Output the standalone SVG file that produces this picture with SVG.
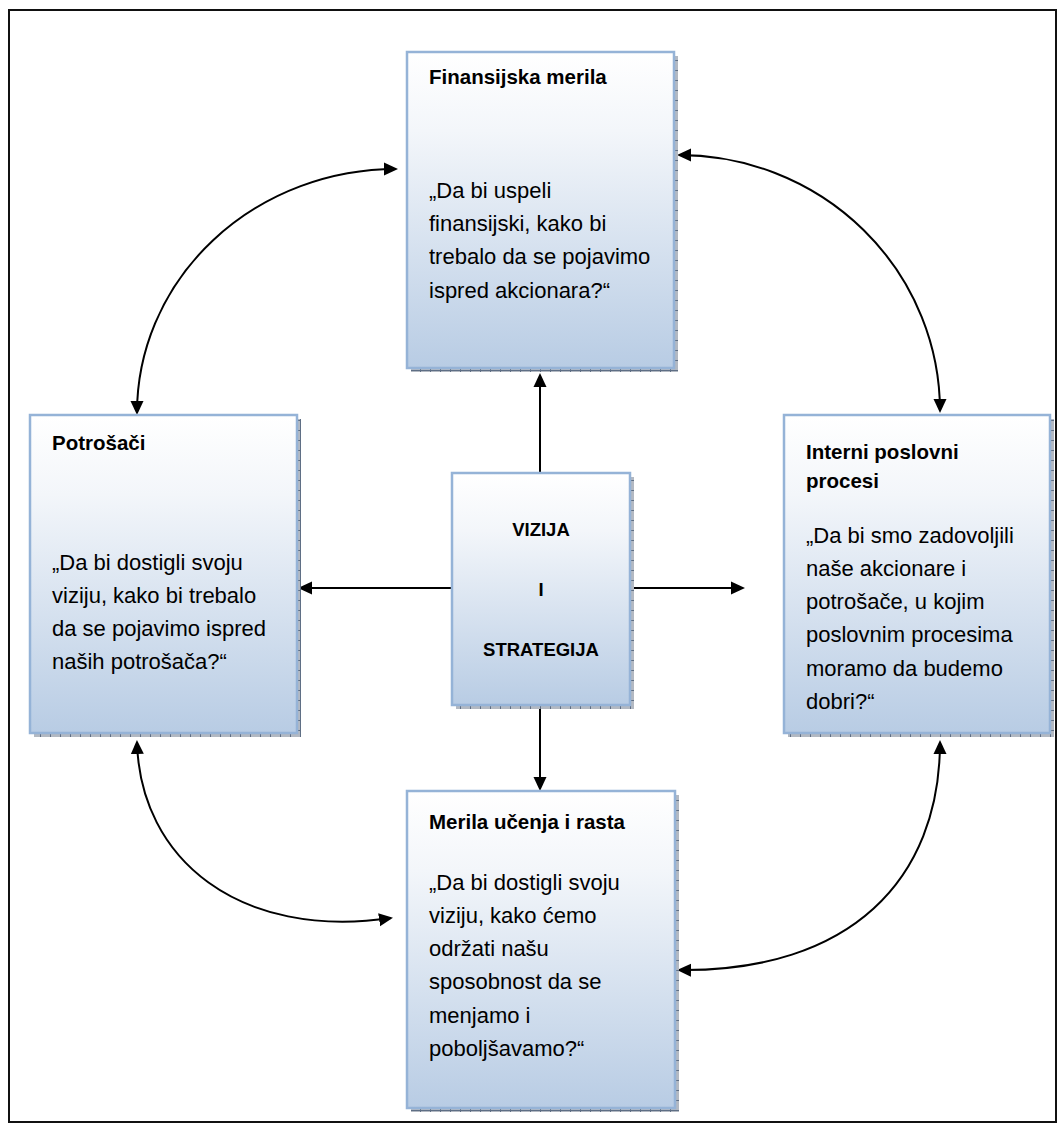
<svg xmlns="http://www.w3.org/2000/svg" width="1064" height="1131" viewBox="0 0 1064 1131">
  <style>
    .box { fill: url(#boxFill); stroke: #95b3d7; stroke-width: 2.5; }
    .shadow { fill: url(#shadowGrid); }
    .title { font-family: "Liberation Sans", Arial, sans-serif; font-weight: bold; font-size: 20.5px; fill: #000; }
    .body { font-family: "Liberation Sans", Arial, sans-serif; font-size: 22px; fill: #000; }
    .core { font-family: "Liberation Sans", Arial, sans-serif; font-weight: bold; font-size: 18.5px; fill: #000; text-anchor: middle; }
    .link { fill: none; stroke: #000; stroke-width: 2; marker-end: url(#head); }
    .link2 { fill: none; stroke: #000; stroke-width: 2; marker-start: url(#head); marker-end: url(#head); }
  </style>
  <defs>
    <linearGradient id="boxFill" x1="0" y1="0" x2="0" y2="1">
      <stop offset="0" stop-color="#ffffff"/>
      <stop offset="0.25" stop-color="#f3f6fa"/>
      <stop offset="1" stop-color="#b8cce4"/>
    </linearGradient>
    <pattern id="shadowGrid" width="10" height="10" patternUnits="userSpaceOnUse">
      <rect width="10" height="10" fill="#b3b9c2"/>
      <path d="M0 0.5H10M0.5 0V10" stroke="#5f6f85" stroke-width="1"/>
    </pattern>
    <marker id="head" markerUnits="userSpaceOnUse" markerWidth="16" markerHeight="14" viewBox="0 0 16 14" refX="12" refY="7" orient="auto-start-reverse">
      <path d="M0 0.5 L14 7 L0 13.5 Z" fill="#000"/>
    </marker>
  </defs>

  <rect width="1064" height="1131" fill="#fff"/>
  <!-- outer frame -->
  <rect x="9" y="10" width="1047" height="1112" fill="none" stroke="#111" stroke-width="2"/>

  <!-- connectors -->
  <g id="connectors">
    <path class="link" d="M540 473 L540 375"/>
    <path class="link" d="M452 588 L300 588"/>
    <path class="link" d="M630 588 L743 588"/>
    <path class="link" d="M540 705 L540 789"/>
    <path class="link2" d="M396 169 A259 244 0 0 0 137 413"/>
    <path class="link2" d="M679 155 A261 256 0 0 1 940 411"/>
    <path class="link2" d="M137 742 C140 860 240 940 391 918"/>
    <path class="link2" d="M940 742 C940 880 850 972 679 970"/>
  </g>

  <!-- Finansijska merila -->
  <g id="finansijska">
    <rect class="shadow" x="411" y="56" width="267" height="316"/>
    <rect class="box" x="407" y="52" width="267" height="316"/>
    <text class="title" x="429" y="84">Finansijska merila</text>
    <text class="body" x="429" y="198">„Da bi uspeli</text>
    <text class="body" x="429" y="231">finansijski, kako bi</text>
    <text class="body" x="429" y="264">trebalo da se pojavimo</text>
    <text class="body" x="429" y="298">ispred akcionara?“</text>
  </g>

  <!-- Potrošači -->
  <g id="potrosaci">
    <rect class="shadow" x="34" y="419" width="267" height="318"/>
    <rect class="box" x="30" y="415" width="267" height="318"/>
    <text class="title" x="52" y="450">Potrošači</text>
    <text class="body" x="52" y="570">„Da bi dostigli svoju</text>
    <text class="body" x="52" y="603">viziju, kako bi trebalo</text>
    <text class="body" x="52" y="636">da se pojavimo ispred</text>
    <text class="body" x="52" y="669">naših potrošača?“</text>
  </g>

  <!-- Vizija i strategija -->
  <g id="vizija">
    <rect class="shadow" x="456" y="477" width="178" height="232"/>
    <rect class="box" x="452" y="473" width="178" height="232"/>
    <text class="core" x="541" y="536">VIZIJA</text>
    <text class="core" x="541" y="596">I</text>
    <text class="core" x="541" y="656">STRATEGIJA</text>
  </g>

  <!-- Interni poslovni procesi -->
  <g id="interni">
    <rect class="shadow" x="788" y="419" width="266" height="318"/>
    <rect class="box" x="784" y="415" width="266" height="318"/>
    <text class="title" x="806" y="459">Interni poslovni</text>
    <text class="title" x="806" y="488">procesi</text>
    <text class="body" x="806" y="543">„Da bi smo zadovoljili</text>
    <text class="body" x="806" y="576">naše akcionare i</text>
    <text class="body" x="806" y="609">potrošače, u kojim</text>
    <text class="body" x="806" y="642">poslovnim procesima</text>
    <text class="body" x="806" y="676">moramo da budemo</text>
    <text class="body" x="806" y="709">dobri?“</text>
  </g>

  <!-- Merila učenja i rasta -->
  <g id="merila">
    <rect class="shadow" x="411" y="795" width="268" height="317"/>
    <rect class="box" x="407" y="791" width="268" height="317"/>
    <text class="title" x="429" y="829">Merila učenja i rasta</text>
    <text class="body" x="429" y="890">„Da bi dostigli svoju</text>
    <text class="body" x="429" y="923">viziju, kako ćemo</text>
    <text class="body" x="429" y="956">održati našu</text>
    <text class="body" x="429" y="989">sposobnost da se</text>
    <text class="body" x="429" y="1023">menjamo i</text>
    <text class="body" x="429" y="1056">poboljšavamo?“</text>
  </g>
</svg>
